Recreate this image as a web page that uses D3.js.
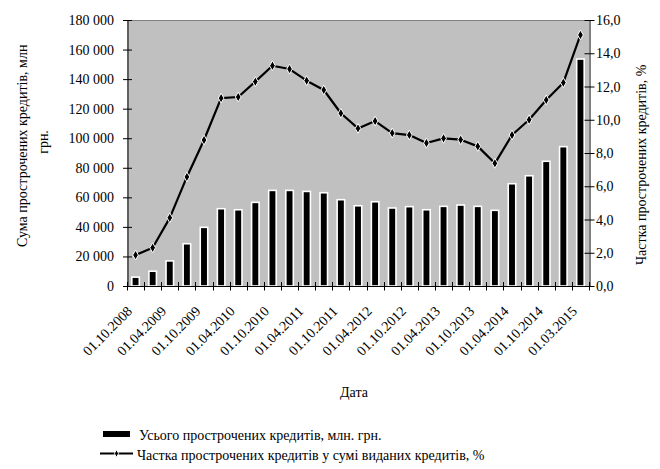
<!DOCTYPE html>
<html lang="uk">
<head>
<meta charset="utf-8">
<script src="https://cdn.jsdelivr.net/npm/d3@7"></script>
<style>
html,body{margin:0;padding:0;background:#fff;}
svg{display:block;}
svg text{font-family:"Liberation Serif" !important;}
</style>
</head>
<body>
<svg id="chart" width="660" height="469" font-family="Liberation Serif"></svg>
<script>
const categories = ["01.10.2008","01.01.2009","01.04.2009","01.07.2009","01.10.2009","01.01.2010","01.04.2010","01.07.2010","01.10.2010","01.01.2011","01.04.2011","01.07.2011","01.10.2011","01.01.2012","01.04.2012","01.07.2012","01.10.2012","01.01.2013","01.04.2013","01.07.2013","01.10.2013","01.01.2014","01.04.2014","01.07.2014","01.10.2014","01.01.2015","01.03.2015"];
const overdueAmount = [6000,10000,17000,28600,39700,52300,51600,56600,64700,64700,64000,63100,58400,54300,57000,52800,53700,51600,53900,54800,53900,51200,69200,74600,84400,94300,153600];
const overdueShare = [1.86,2.3,4.1,6.56,8.78,11.3,11.37,12.29,13.25,13.05,12.35,11.79,10.39,9.48,9.92,9.2,9.08,8.6,8.88,8.8,8.4,7.38,9.08,10.0,11.19,12.23,15.1];
const leftTicks = [0,20000,40000,60000,80000,100000,120000,140000,160000,180000];
const rightTicks = [0,2,4,6,8,10,12,14,16];
const shownLabels = ["01.10.2008","01.04.2009","01.10.2009","01.04.2010","01.10.2010","01.04.2011","01.10.2011","01.04.2012","01.10.2012","01.04.2013","01.10.2013","01.04.2014","01.10.2014","01.03.2015"];
const leftTitle1 = "Сума прострочених кредитів, млн";
const leftTitle2 = "грн.";
const rightTitle = "Частка прострочених кредитів, %";
const xTitle = "Дата";
const legendBar = "Усього прострочених кредитів, млн. грн.";
const legendLine = "Частка прострочених кредитів у сумі виданих кредитів, %";

const FONT = '"Liberation Serif"';
const svg = d3.select("#chart");
const L = 127, R = 589, T = 20, B = 286;
const FS = 14;

function label(parent, tx, ty, rot, size, anchor, str) {
  return parent.append("text")
    .attr("transform", `translate(${tx},${ty}) rotate(${rot})`)
    .attr("text-anchor", anchor)
    .attr("font-size", size)
    .attr("font-family", "Liberation Serif")
    .style("font-family", FONT)
    .attr("fill", "#000")
    .text(str);
}

const x = d3.scaleBand().domain(categories).range([L, R]).padding(0);
const yL = d3.scaleLinear().domain([0,180000]).range([B, T]);
const yR = d3.scaleLinear().domain([0,16]).range([B, T]);
const cx = d => x(d) + x.bandwidth()/2;

// plot background
svg.append("rect").attr("x",L).attr("y",T).attr("width",R-L).attr("height",B-T).attr("fill","#C0C0C0");
svg.append("line").attr("x1",L).attr("x2",R).attr("y1",T+0.5).attr("y2",T+0.5).attr("stroke","#808080").attr("stroke-width",1);

// bars
const bw = 7.5;
svg.append("g").selectAll("rect").data(categories).join("rect")
  .attr("x",(d)=>cx(d)-bw/2)
  .attr("y",(d,i)=>yL(overdueAmount[i]))
  .attr("width",bw)
  .attr("height",(d,i)=>B-yL(overdueAmount[i]))
  .attr("fill","#000").attr("stroke","#fff").attr("stroke-width",1.6);

// line
const line = d3.line().x((d,i)=>cx(categories[i])).y(d=>yR(d));
svg.append("path").datum(overdueShare).attr("d",line).attr("fill","none").attr("stroke","#000").attr("stroke-width",2.2).attr("stroke-linejoin","round");
const sym = d3.symbol().type(d3.symbolDiamond).size(28);
svg.append("g").selectAll("path").data(overdueShare).join("path")
  .attr("transform",(d,i)=>`translate(${cx(categories[i])},${yR(d)})`)
  .attr("d",sym).attr("fill","#000").attr("stroke","#fff").attr("stroke-width",1);

// left axis
const fmtL = v => d3.format(",")(v).replace(/,/g," ");
const gL = svg.append("g").attr("transform",`translate(${L+0.5},0)`)
  .call(d3.axisLeft(yL).tickValues(leftTicks).tickSize(4.5).tickSizeOuter(0).tickFormat(""));
gL.attr("font-family",null).attr("font-size",null);
gL.selectAll("text").remove();
gL.select(".domain").attr("stroke","#000");
gL.selectAll(".tick line").attr("x1",4.5).attr("stroke","#000");
const gLT = svg.append("g");
leftTicks.forEach(v => label(gLT, L-13, yL(v)+5, 0, FS, "end", fmtL(v)));

// right axis
const fmtR = v => d3.format(".1f")(v).replace(".",",");
const gR = svg.append("g").attr("transform",`translate(${R+0.5},0)`)
  .call(d3.axisRight(yR).tickValues(rightTicks).tickSize(5).tickSizeOuter(0).tickFormat(""));
gR.attr("font-family",null).attr("font-size",null);
gR.selectAll("text").remove();
gR.select(".domain").attr("stroke","#000");
gR.selectAll(".tick line").attr("x1",-5).attr("stroke","#000");
const gRT = svg.append("g");
rightTicks.forEach(v => label(gRT, R+7, yR(v)+5, 0, FS, "start", fmtR(v)));

// bottom axis
const bounds = categories.map(d=>x(d)).concat([R]);
svg.append("line").attr("x1",L).attr("x2",R).attr("y1",B+0.5).attr("y2",B+0.5).attr("stroke","#000");
svg.append("g").selectAll("line").data(bounds).join("line")
  .attr("x1",d=>Math.round(d)+0.5).attr("x2",d=>Math.round(d)+0.5)
  .attr("y1",B-4).attr("y2",B+4.5).attr("stroke","#000");
const gX = svg.append("g");
shownLabels.forEach(d => label(gX, cx(d)-2.5, B+26, -45, FS, "end", d));

// titles
const defs = svg.append("defs");
defs.append("clipPath").attr("id","clipL").append("rect").attr("x",0).attr("y",20).attr("width",120).attr("height",449);
defs.append("clipPath").attr("id","clipR").append("rect").attr("x",600).attr("y",24).attr("width",60).attr("height",445);
label(svg.append("g").attr("clip-path","url(#clipL)"), 27, 247, -90, FS, "start", leftTitle1);
label(svg, 48, 142, -90, FS, "middle", leftTitle2);
label(svg.append("g").attr("clip-path","url(#clipR)"), 646, 265, -90, FS, "start", rightTitle);
label(svg, (L+R)/2-4, 397, 0, FS, "middle", xTitle);

// legend
svg.append("rect").attr("x",103).attr("y",431).attr("width",27).attr("height",6).attr("fill","#000");
label(svg, 139, 440, 0, FS, "start", legendBar);
svg.append("line").attr("x1",100).attr("x2",133).attr("y1",453.5).attr("y2",453.5).attr("stroke","#000").attr("stroke-width",2);
svg.append("path").attr("transform","translate(116.5,453.5)").attr("d",d3.symbol().type(d3.symbolDiamond).size(16)).attr("fill","#000").attr("stroke","#fff").attr("stroke-width",1);
label(svg, 137, 460, 0, FS, "start", legendLine);
</script>
</body>
</html>
